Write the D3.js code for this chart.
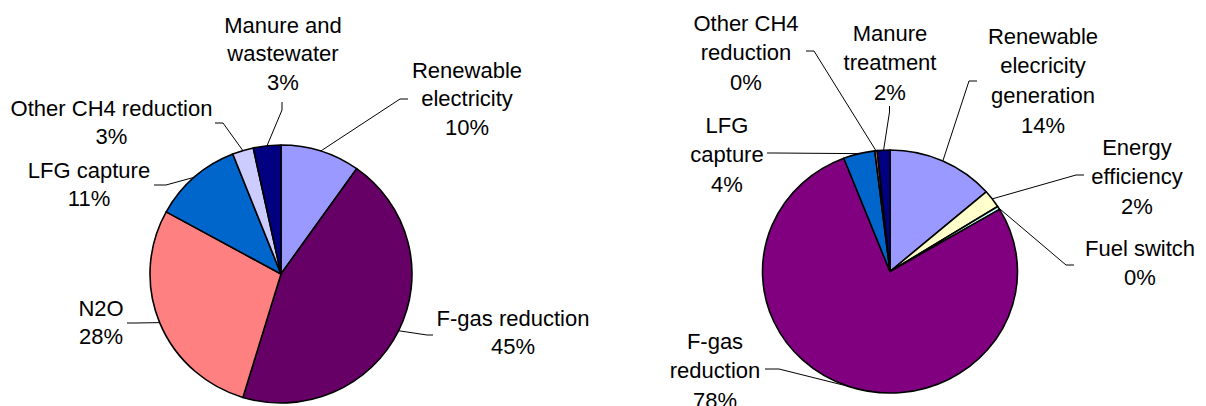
<!DOCTYPE html>
<html>
<head>
<meta charset="utf-8">
<script src="https://cdn.jsdelivr.net/npm/d3@7"></script>
<style>
  html, body { margin: 0; padding: 0; background: #fff; }
  svg { display: block; }
  text { font-family: "Liberation Sans", Arial, sans-serif; font-size: 22px; fill: #000; }
</style>
</head>
<body>
<svg id="chart" width="1206" height="406"></svg>
<script>
// ---------- DATA ----------
const leftCategories = ["Renewable\nelectricity", "F-gas reduction", "N2O", "LFG capture", "Other CH4 reduction", "Manure and\nwastewater"];
const leftValues = [9.8, 44.9, 28.3, 11.0, 2.6, 3.4];
const leftColors = ["#9999FF", "#660066", "#FF8080", "#0066CC", "#CCCCFF", "#000080"];

const rightCategories = ["Renewable\nelecricity\ngeneration", "Energy\nefficiency", "Fuel switch", "F-gas\nreduction", "LFG\ncapture", "Other CH4\nreduction", "Manure\ntreatment"];
const rightValues = [13.6, 2.4, 0.45, 77.6, 4.0, 0.3, 1.6];
const rightColors = ["#9999FF", "#FFFFCC", "#CCFFFF", "#800080", "#0066CC", "#FF8080", "#000080"];

// ---------- LAYOUT ----------
const leftLayout = {
  cx: 281, cy: 274, rx: 131, ry: 129, lineH: 28.8,
  labels: [
    { x: 467, y: 70,  start: [408, 99],  elbow: [400, 99] },
    { x: 513, y: 318, start: [433, 335], elbow: [427, 335] },
    { x: 101, y: 308, start: [127, 323], elbow: [135, 323] },
    { x: 89,  y: 170, start: [154, 185], elbow: [166, 185] },
    { x: 111.5, y: 108, start: [215, 123], elbow: [223, 123] },
    { x: 283, y: 25,  start: [282, 102], elbow: [282, 110] }
  ]
};
const rightLayout = {
  cx: 890, cy: 271.5, rx: 127.5, ry: 121.5, lineH: 29.7,
  labels: [
    { x: 1043, y: 36,  start: [977, 81],   elbow: [969, 81] },
    { x: 1137, y: 147, start: [1084, 175], elbow: [1076, 175] },
    { x: 1140, y: 248, start: [1074, 265], elbow: [1066, 265] },
    { x: 715,  y: 341, start: [765, 369],  elbow: [779, 369] },
    { x: 727,  y: 125, start: [767, 153],  elbow: [775, 153] },
    { x: 746,  y: 23,  start: [806, 51],   elbow: [814, 51] },
    { x: 890,  y: 33,  start: [889.5, 106], elbow: [889.5, 112] }
  ]
};

const svg = d3.select("#chart");

function drawPie(categories, values, colors, layout) {
  const pie = d3.pie().sort(null).value(d => d);
  const arcs = pie(values);
  const arc = d3.arc().innerRadius(0).outerRadius(layout.rx);
  const sy = layout.ry / layout.rx;

  const g = svg.append("g")
    .attr("transform", `translate(${layout.cx},${layout.cy}) scale(1,${sy})`);

  g.selectAll("path")
    .data(arcs)
    .join("path")
    .attr("d", arc)
    .attr("fill", (d, i) => colors[i])
    .attr("stroke", "#000")
    .attr("stroke-width", 1.6)
    .attr("stroke-linejoin", "round")
    .attr("vector-effect", "non-scaling-stroke");

  // leader lines
  const lineGen = d3.line();
  arcs.forEach((d, i) => {
    const L = layout.labels[i];
    const mid = (d.startAngle + d.endAngle) / 2;
    const px = layout.cx + layout.rx * Math.sin(mid);
    const py = layout.cy - layout.ry * Math.cos(mid);
    svg.append("path")
      .attr("d", lineGen([L.start, L.elbow, [px, py]]))
      .attr("fill", "none")
      .attr("stroke", "#000")
      .attr("stroke-width", 1);
  });

  // labels
  arcs.forEach((d, i) => {
    const L = layout.labels[i];
    const lines = categories[i].split("\n").concat([Math.round(values[i]) + "%"]);
    const t = svg.append("text")
      .attr("text-anchor", "middle");
    lines.forEach((ln, k) => {
      t.append("tspan")
        .attr("x", L.x)
        .attr("y", L.y + k * layout.lineH)
        .attr("dominant-baseline", "central")
        .text(ln);
    });
  });
}

drawPie(leftCategories, leftValues, leftColors, leftLayout);
drawPie(rightCategories, rightValues, rightColors, rightLayout);
</script>
</body>
</html>
